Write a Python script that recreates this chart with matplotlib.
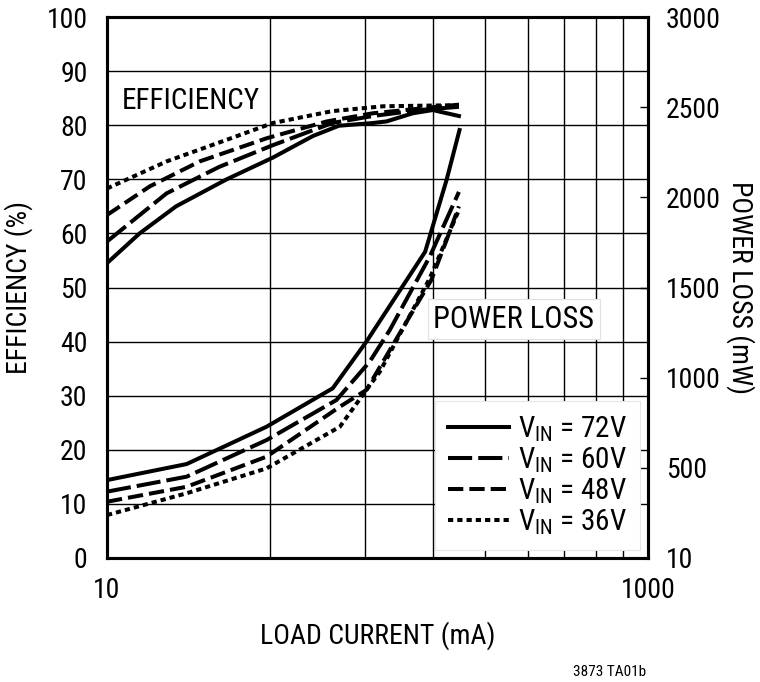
import matplotlib
matplotlib.use("Agg")
import matplotlib.pyplot as plt
from matplotlib import font_manager

names = {f.name for f in font_manager.fontManager.ttflist}
FONT = 'DejaVu Sans'
for cand in ['Nimbus Sans Narrow', 'Liberation Sans Narrow', 'Roboto Condensed',
             'Archivo Narrow', 'Asap Condensed', 'Barlow Semi Condensed']:
    if cand in names:
        FONT = cand
        break
plt.rcParams['font.family'] = [FONT, 'DejaVu Sans']
plt.rcParams['mathtext.fontset'] = 'custom'
plt.rcParams['mathtext.rm'] = FONT
plt.rcParams['mathtext.it'] = FONT

# ---- data ----
labels = ['V$_{\\mathrm{IN}}$ = 72V', 'V$_{\\mathrm{IN}}$ = 60V',
          'V$_{\\mathrm{IN}}$ = 48V', 'V$_{\\mathrm{IN}}$ = 36V']

eff72_x = [10, 13.2, 18, 27.7, 41, 57.7, 72, 96, 108, 135, 160, 200]
eff72_y = [54.5, 60, 65, 70, 74, 78, 79.9, 80.4, 80.7, 82.2, 82.8, 81.7]
eff60_x = [10, 16.6, 26, 41, 68, 96, 143, 200]
eff60_y = [58.5, 67.4, 72.3, 76.3, 80.4, 81.7, 82.8, 83.4]
eff48_x = [10, 14.4, 22, 39, 65, 96, 200]
eff48_y = [63.4, 68.7, 73.3, 77.6, 80.7, 82.2, 83.8]
eff36_x = [10, 16.6, 27.7, 41, 68, 105, 200]
eff36_y = [68.3, 73.3, 77.3, 80.4, 82.6, 83.5, 83.7]

pl72_x = [10, 19.7, 38.9, 68.3, 91, 150, 180, 201]
pl72_y = [432, 521, 728, 941, 1200, 1698, 2096, 2373]
pl60_x = [10, 19.7, 38.9, 70.5, 93.6, 111, 156, 200]
pl60_y = [368, 451, 654, 876, 1089, 1264, 1671, 2030]
pl48_x = [10, 19.7, 38.9, 72.6, 91, 124, 158, 180, 200]
pl48_y = [312, 395, 562, 839, 932, 1275, 1541, 1763, 1950]
pl36_x = [10, 19.7, 38.9, 72.6, 91, 102, 156, 200]
pl36_y = [238, 359, 497, 728, 932, 1033, 1551, 1930]

left_ticks = [0, 10, 20, 30, 40, 50, 60, 70, 80, 90, 100]
right_ticks = [0, 500, 1000, 1500, 2000, 2500, 3000]
right_labels = ['10', '500', '1000', '1500', '2000', '2500', '3000']
x_ticks = [10, 1000]
x_labels = ['10', '1000']
x_grid = [10 * n * n for n in range(2, 10)]

# ---- styles ----
LW = 2.9
styles = ['-', (0, (6.0, 1.5)), (0, (3.8, 1.5)), (0, (1.3, 1.0))]
FS = 20

fig = plt.figure(figsize=(7.6, 6.82), dpi=100)
ax = fig.add_axes([107/760, 1-558/682, 541/760, 541/682])
ax2 = ax.twinx()

ax.set_xscale('log')
ax.set_xlim(10, 1000)
ax.set_ylim(0, 100)
ax2.set_ylim(0, 3000)

ax.set_xticks(x_ticks)
ax.set_xticklabels(x_labels)
ax.set_xticks(x_grid, minor=True)
ax.set_yticks(left_ticks)
ax.tick_params(axis='x', which='both', length=0, labelsize=FS, pad=14)
ax.tick_params(axis='y', length=0, labelsize=FS, pad=14)
ax.grid(True, which='both', axis='x', color='black', lw=1.0)
ax.grid(True, which='major', axis='y', color='black', lw=1.0)
ax.set_axisbelow(True)

ax2.set_yticks(right_ticks)
ax2.set_yticklabels(right_labels)
ax2.tick_params(axis='y', direction='in', length=6, width=1.0, labelsize=FS, pad=13)
ax2.xaxis.set_visible(False)

for a in (ax, ax2):
    for s in a.spines.values():
        s.set_linewidth(2.2)

effs = [(eff72_x, eff72_y), (eff60_x, eff60_y), (eff48_x, eff48_y), (eff36_x, eff36_y)]
pls = [(pl72_x, pl72_y), (pl60_x, pl60_y), (pl48_x, pl48_y), (pl36_x, pl36_y)]
handles = []
for (ex, ey), (px, py), ls, lab in zip(effs, pls, styles, labels):
    ax.plot(ex, ey, color='black', lw=LW, linestyle=ls, dash_capstyle='butt')
    h, = ax2.plot(px, py, color='black', lw=LW, linestyle=ls, dash_capstyle='butt', label=lab)
    handles.append(h)

ax.text(0.028, 0.845, 'EFFICIENCY', transform=ax.transAxes, fontsize=21,
        ha='left', va='center')
ax2.text(0.603, 0.441, 'POWER LOSS', transform=ax2.transAxes, fontsize=22,
         ha='left', va='center',
         bbox=dict(facecolor='white', edgecolor='#e0e0e0', lw=0.8, pad=4))

leg = ax2.legend(handles=handles, loc='lower right', bbox_to_anchor=(0.985, 0.014),
                 fontsize=FS + 1, frameon=True, fancybox=False, handlelength=2.1,
                 handletextpad=0.3, labelspacing=0.05, borderpad=0.45,
                 borderaxespad=0)
leg.get_frame().set_facecolor('white')
leg.get_frame().set_edgecolor('#e6e6e6')
leg.get_frame().set_linewidth(0.8)
leg.get_frame().set_alpha(1)

ax.set_xlabel('LOAD CURRENT (mA)', fontsize=FS, labelpad=12)
ax.set_ylabel('EFFICIENCY (%)', fontsize=FS, labelpad=10)
ax2.set_ylabel('POWER LOSS (mW)', fontsize=FS, rotation=-90, ha='center', va='center')
ax2.yaxis.set_label_coords(1.17, 0.5)

fig.text(610/760, 1-672/682, '3873 TA01b', fontsize=11, ha='center', va='center')

fig.savefig('out.png', dpi=100)
